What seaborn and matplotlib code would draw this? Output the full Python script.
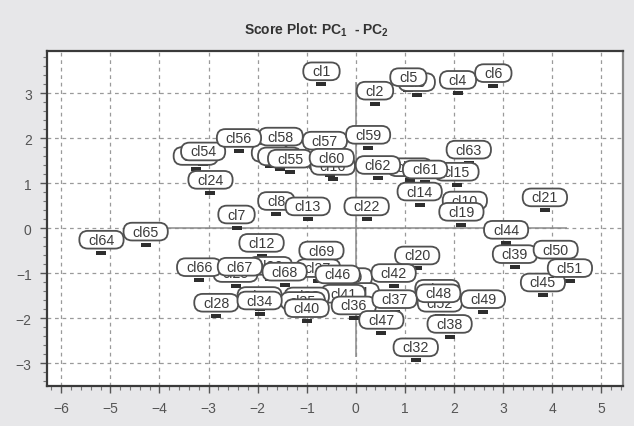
import matplotlib
matplotlib.use("Agg")
import matplotlib.pyplot as plt
import seaborn as sns
import pandas as pd
from matplotlib.patches import BoxStyle
from matplotlib.ticker import MultipleLocator, AutoMinorLocator

# Scores PC1 / PC2 (orden de dibujo: primero los tapados)
muestras = ['cl3', 'cl53', 'cl9', 'cl11', 'cl17', 'cl16', 'cl18', 'cl25', 'cl26',
            'cl27', 'cl29', 'cl30', 'cl31', 'cl41', 'cl33', 'cl35', 'cl43', 'cl52',
            'cl1', 'cl2', 'cl5', 'cl4', 'cl6', 'cl54', 'cl24', 'cl58', 'cl56',
            'cl57', 'cl55', 'cl60', 'cl59', 'cl62', 'cl63', 'cl15', 'cl61', 'cl14',
            'cl22', 'cl10', 'cl19', 'cl8', 'cl13', 'cl7', 'cl21', 'cl44', 'cl39',
            'cl50', 'cl45', 'cl51', 'cl64', 'cl65', 'cl12', 'cl66', 'cl67', 'cl69',
            'cl68', 'cl46', 'cl28', 'cl34', 'cl40', 'cl36', 'cl37', 'cl47', 'cl20',
            'cl42', 'cl48', 'cl49', 'cl38', 'cl32']
pc1 = [1.24, -3.26, -1.75, -1.55, -0.52, -0.47, 1.10, -2.45, -1.75,
       -0.77, -0.12, -1.96, 0.02, -0.26, -1.00, -1.08, 1.66, 1.71,
       -0.70, 0.39, 1.07, 2.08, 2.80, -3.11, -2.96, -1.53, -2.38,
       -0.63, -1.34, -0.49, 0.25, 0.45, 2.30, 2.05, 1.41, 1.30,
       0.22, 2.22, 2.15, -1.62, -0.98, -2.43, 3.85, 3.06, 3.24,
       4.07, 3.81, 4.36, -5.18, -4.28, -1.92, -3.19, -2.36, -0.70,
       -1.45, -0.37, -2.84, -1.96, -1.00, -0.04, 0.79, 0.52, 1.25,
       0.77, 1.68, 2.59, 1.91, 1.22]
pc2 = [2.96, 1.32, 1.39, 1.31, 1.19, 1.10, 1.07, -1.28, -1.12,
       -1.17, -1.37, -1.79, -1.70, -1.74, -1.80, -1.90, -1.63, -1.94,
       3.20, 2.77, 3.07, 3.01, 3.16, 1.42, 0.79, 1.75, 1.72,
       1.66, 1.26, 1.28, 1.79, 1.12, 1.46, 0.97, 1.02, 0.53,
       0.20, 0.33, 0.08, 0.32, 0.20, 0.02, 0.40, -0.32, -0.86,
       -0.76, -1.49, -1.17, -0.54, -0.36, -0.61, -1.15, -1.14, -0.78,
       -1.25, -1.31, -1.94, -1.89, -2.06, -2.00, -1.86, -2.32, -0.89,
       -1.28, -1.73, -1.86, -2.41, -2.93]

df = pd.DataFrame({'muestra': muestras, 'PC1': pc1, 'PC2': pc2})

sns.set_style("whitegrid")
plt.rcParams['font.family'] = ['Liberation Sans', 'DejaVu Sans']
plt.rcParams['mathtext.fontset'] = 'custom'
plt.rcParams['mathtext.rm'] = 'Liberation Sans'
plt.rcParams['mathtext.bf'] = 'Liberation Sans:bold'

fondo = '#e7e7e9'
fig = plt.figure(figsize=(6.34, 4.27), dpi=100, facecolor=fondo)
ax = fig.add_axes([0.0741, 0.0937, 0.9085, 0.7845])
ax.set_facecolor('white')

# Ejes por el origen (solo sobre el rango de los datos)
ax.hlines(0, -3.85, 4.3, color='#8a8a8a', lw=1.1, zorder=1.5)
ax.vlines(0, -2.86, 3.25, color='#8a8a8a', lw=1.1, zorder=1.5)

# Marcador: barrita negra bajo cada etiqueta
barra = [(-1, -0.38), (1, -0.38), (1, 0.38), (-1, 0.38)]
sns.scatterplot(data=df, x='PC1', y='PC2', marker=barra, s=55, color='#2e2e2e',
                linewidth=0, ax=ax, zorder=2, legend=False)

# Caja tipo pildora para las etiquetas
_redondo = BoxStyle.Round(pad=0.13, rounding_size=0.6)


def pildora(x0, y0, width, height, mutation_size):
    extra = 0.5 * mutation_size
    return _redondo(x0 - extra, y0, width + 2 * extra, height, mutation_size)


for i, fila in df.iterrows():
    ax.annotate(fila['muestra'], (fila['PC1'], fila['PC2']),
                xytext=(0, 13), textcoords='offset pixels',
                ha='center', va='center', fontsize=10.3, color='#3a3a3a',
                zorder=3 + i * 0.01,
                bbox=dict(boxstyle=pildora, fc='white', ec='#505050', lw=1.3))

ax.set_xlim(-6.29, 5.44)
ax.set_ylim(-3.50, 3.94)
ax.xaxis.set_major_locator(MultipleLocator(1))
ax.yaxis.set_major_locator(MultipleLocator(1))
ax.xaxis.set_minor_locator(AutoMinorLocator(5))
ax.yaxis.set_minor_locator(AutoMinorLocator(5))

ax.grid(True, which='major', color='#9a9a9a', linestyle=(0, (3, 3)), lw=0.9)
ax.grid(False, which='minor')
ax.set_axisbelow(True)

ax.tick_params(axis='both', which='major', direction='out', length=5, width=1,
               color='#555555', labelcolor='#555555', labelsize=10, pad=6)
ax.tick_params(axis='both', which='minor', direction='out', length=3, width=0.8,
               color='#777777')
ax.tick_params(bottom=True, left=True, which='both')

for lado, sp in ax.spines.items():
    sp.set_visible(True)
    sp.set_color('#3a3a3a')
    sp.set_linewidth(1.6)
ax.spines['right'].set_color('#888888')

ax.set_xlabel('')
ax.set_ylabel('')

fig.text(0.5, 1 - 30 / 427, r'Score Plot: PC$_{\mathbf{1}}$  - PC$_{\mathbf{2}}$',
         ha='center', va='center', fontsize=10, fontweight='bold', color='#333333')

plt.savefig('out.png', dpi=100, facecolor=fondo)
plt.close()
